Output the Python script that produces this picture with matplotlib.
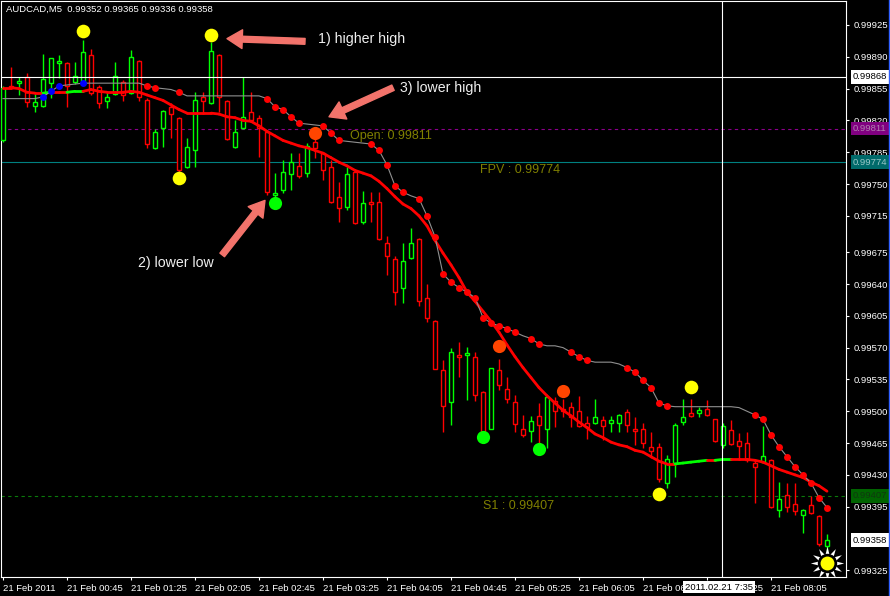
import matplotlib
matplotlib.use("Agg")
import matplotlib.pyplot as plt
import matplotlib.transforms as mtransforms
from matplotlib.collections import LineCollection
from matplotlib.patches import Rectangle
from matplotlib.lines import Line2D

plt.rcParams['font.family'] = ['Liberation Sans', 'DejaVu Sans']

# ---------------- data ----------------
title_text = "AUDCAD,M5  0.99352 0.99365 0.99336 0.99358"

opens = [0.99798, 0.99858, 0.99861, 0.99868, 0.99836, 0.99836, 0.99861, 0.99883, 0.99883, 0.99862,
         0.99862, 0.99892, 0.99857, 0.99841, 0.99849, 0.99862, 0.99850, 0.99885, 0.99842, 0.99790,
         0.99812, 0.99835, 0.99823, 0.99769, 0.99787, 0.99846, 0.99839, 0.99892, 0.99841, 0.99791,
         0.99812, 0.99829, 0.99823, 0.99807, 0.99738, 0.99743, 0.99761, 0.99770, 0.99762, 0.99796,
         0.99784, 0.99769, 0.99736, 0.99725, 0.99763, 0.99708, 0.99730, 0.99730, 0.99685, 0.99667,
         0.99636, 0.99669, 0.99690, 0.99625, 0.99599, 0.99545, 0.99510, 0.99562, 0.99562, 0.99560,
         0.99521, 0.99481, 0.99545, 0.99524, 0.99510, 0.99481, 0.99478, 0.99495, 0.99481, 0.99511,
         0.99503, 0.99505, 0.99500, 0.99487, 0.99487, 0.99490, 0.99487, 0.99487, 0.99499, 0.99481,
         0.99481, 0.99461, 0.99461, 0.99421, 0.99443, 0.99488, 0.99498, 0.99498, 0.99503, 0.99491,
         0.99463, 0.99479, 0.99467, 0.99465, 0.99443, 0.99444, 0.99446, 0.99391, 0.99408, 0.99398,
         0.99386, 0.99397, 0.99385, 0.99352]

highs = [0.99858, 0.99879, 0.99868, 0.99872, 0.99849, 0.99893, 0.99889, 0.99892, 0.99884, 0.99884,
         0.99908, 0.99899, 0.99859, 0.99850, 0.99884, 0.99865, 0.99897, 0.99886, 0.99845, 0.99811,
         0.99831, 0.99839, 0.99824, 0.99801, 0.99851, 0.99851, 0.99906, 0.99893, 0.99842, 0.99820,
         0.99868, 0.99851, 0.99826, 0.99809, 0.99762, 0.99776, 0.99784, 0.99784, 0.99795, 0.99802,
         0.99785, 0.99776, 0.99752, 0.99769, 0.99765, 0.99742, 0.99741, 0.99741, 0.99693, 0.99671,
         0.99685, 0.99702, 0.99691, 0.99640, 0.99600, 0.99556, 0.99570, 0.99576, 0.99571, 0.99565,
         0.99522, 0.99548, 0.99557, 0.99538, 0.99518, 0.99496, 0.99495, 0.99509, 0.99517, 0.99516,
         0.99514, 0.99510, 0.99517, 0.99495, 0.99514, 0.99495, 0.99495, 0.99497, 0.99503, 0.99494,
         0.99487, 0.99477, 0.99465, 0.99452, 0.99487, 0.99513, 0.99514, 0.99505, 0.99512, 0.99492,
         0.99487, 0.99490, 0.99476, 0.99477, 0.99446, 0.99484, 0.99447, 0.99422, 0.99421, 0.99421,
         0.99392, 0.99407, 0.99386, 0.99365]

lows = [0.99796, 0.99855, 0.99848, 0.99835, 0.99829, 0.99835, 0.99845, 0.99867, 0.99835, 0.99860,
        0.99860, 0.99848, 0.99834, 0.99834, 0.99848, 0.99841, 0.99849, 0.99841, 0.99790, 0.99789,
        0.99791, 0.99801, 0.99763, 0.99768, 0.99769, 0.99829, 0.99838, 0.99829, 0.99799, 0.99790,
        0.99811, 0.99818, 0.99780, 0.99738, 0.99736, 0.99740, 0.99743, 0.99757, 0.99758, 0.99779,
        0.99754, 0.99729, 0.99708, 0.99721, 0.99706, 0.99706, 0.99708, 0.99688, 0.99650, 0.99617,
        0.99619, 0.99668, 0.99616, 0.99598, 0.99546, 0.99477, 0.99485, 0.99538, 0.99512, 0.99511,
        0.99476, 0.99480, 0.99523, 0.99509, 0.99477, 0.99472, 0.99466, 0.99463, 0.99459, 0.99483,
        0.99494, 0.99483, 0.99483, 0.99469, 0.99486, 0.99468, 0.99477, 0.99477, 0.99477, 0.99463,
        0.99459, 0.99448, 0.99422, 0.99415, 0.99428, 0.99485, 0.99494, 0.99494, 0.99495, 0.99466,
        0.99459, 0.99463, 0.99446, 0.99444, 0.99399, 0.99443, 0.99394, 0.99384, 0.99389, 0.99386,
        0.99366, 0.99387, 0.99352, 0.99336]

closes = [0.99856, 0.99856, 0.99863, 0.99840, 0.99840, 0.99866, 0.99889, 0.99885, 0.99858, 0.99869,
          0.99895, 0.99850, 0.99839, 0.99846, 0.99869, 0.99848, 0.99890, 0.99846, 0.99794, 0.99807,
          0.99830, 0.99827, 0.99765, 0.99791, 0.99842, 0.99841, 0.99896, 0.99846, 0.99800, 0.99807,
          0.99824, 0.99820, 0.99812, 0.99741, 0.99740, 0.99763, 0.99774, 0.99759, 0.99792, 0.99790,
          0.99765, 0.99730, 0.99724, 0.99761, 0.99707, 0.99729, 0.99728, 0.99690, 0.99671, 0.99631,
          0.99665, 0.99685, 0.99621, 0.99603, 0.99547, 0.99506, 0.99565, 0.99560, 0.99564, 0.99518,
          0.99477, 0.99548, 0.99529, 0.99513, 0.99486, 0.99474, 0.99489, 0.99485, 0.99516, 0.99500,
          0.99500, 0.99494, 0.99484, 0.99483, 0.99494, 0.99484, 0.99490, 0.99496, 0.99485, 0.99478,
          0.99465, 0.99456, 0.99425, 0.99447, 0.99485, 0.99494, 0.99495, 0.99501, 0.99496, 0.99467,
          0.99484, 0.99464, 0.99462, 0.99446, 0.99439, 0.99451, 0.99395, 0.99403, 0.99395, 0.99390,
          0.99391, 0.99388, 0.99354, 0.99358]

ma_values = [0.99856, 0.99856, 0.99855, 0.99851, 0.99850, 0.99850, 0.99851, 0.99851, 0.99851, 0.99852,
             0.99852, 0.99854, 0.99852, 0.99851, 0.99851, 0.99851, 0.99852, 0.99851, 0.99848, 0.99845,
             0.99842, 0.99837, 0.99832, 0.99828, 0.99828, 0.99828, 0.99828, 0.99827, 0.99824, 0.99823,
             0.99820, 0.99819, 0.99814, 0.99808, 0.99803, 0.99798, 0.99795, 0.99792, 0.99790, 0.99787,
             0.99784, 0.99779, 0.99774, 0.99770, 0.99765, 0.99762, 0.99759, 0.99753, 0.99745, 0.99736,
             0.99728, 0.99723, 0.99715, 0.99704, 0.99688, 0.99674, 0.99661, 0.99647, 0.99631, 0.99621,
             0.99610, 0.99599, 0.99587, 0.99573, 0.99560, 0.99548, 0.99537, 0.99526, 0.99517, 0.99509,
             0.99501, 0.99495, 0.99488, 0.99482, 0.99475, 0.99471, 0.99466, 0.99463, 0.99461, 0.99457,
             0.99455, 0.99450, 0.99445, 0.99442, 0.99442, 0.99443, 0.99444, 0.99445, 0.99446, 0.99446,
             0.99447, 0.99447, 0.99447, 0.99447, 0.99446, 0.99444, 0.99440, 0.99436, 0.99433, 0.99430,
             0.99427, 0.99422, 0.99418, 0.99412]
ma_green_segments = [5, 8, 9, 84, 85, 86, 87, 89, 90]

trail_values = [0.99844, 0.99844, 0.99844, 0.99844, 0.99844, 0.99846, 0.99852, 0.99858, 0.99859, 0.99860,
                0.99861, 0.99861, 0.99861, 0.99861, 0.99861, 0.99861, 0.99861, 0.99861, 0.99858, 0.99856,
                0.99855, 0.99854, 0.99851, 0.99847, 0.99847, 0.99847, 0.99847, 0.99847, 0.99847, 0.99847,
                0.99847, 0.99847, 0.99847, 0.99844, 0.99835, 0.99832, 0.99824, 0.99817, 0.99816, 0.99815,
                0.99814, 0.99806, 0.99798, 0.99797, 0.99796, 0.99795, 0.99794, 0.99787, 0.99771, 0.99748,
                0.99741, 0.99737, 0.99734, 0.99715, 0.99692, 0.99651, 0.99642, 0.99636, 0.99631, 0.99625,
                0.99603, 0.99597, 0.99594, 0.99591, 0.99587, 0.99583, 0.99580, 0.99574, 0.99572, 0.99572,
                0.99570, 0.99565, 0.99560, 0.99556, 0.99554, 0.99554, 0.99554, 0.99552, 0.99548, 0.99543,
                0.99534, 0.99526, 0.99509, 0.99506, 0.99505, 0.99505, 0.99505, 0.99505, 0.99505, 0.99505,
                0.99505, 0.99505, 0.99504, 0.99500, 0.99496, 0.99491, 0.99474, 0.99461, 0.99450, 0.99439,
                0.99430, 0.99421, 0.99405, 0.99394]
trail_red_dot_bars = [18, 19, 22, 33, 34, 35, 36, 37, 40, 41, 42, 46, 47, 48, 49, 50, 52, 53, 54, 55,
                      56, 57, 58, 59, 60, 61, 62, 63, 64, 66, 67, 71, 72, 73, 78, 79, 80, 81, 82, 83,
                      94, 95, 96, 97, 98, 99, 100, 101, 102, 103]
trail_blue_dot_bars = [5, 6, 7, 10]

yellow_bars = [10, 26, 22, 82, 86]
yellow_prices = [0.99918, 0.99914, 0.99757, 0.99409, 0.99527]
orange_bars = [39, 62, 70]
orange_prices = [0.99806, 0.99572, 0.99522]
green_bars = [34, 60, 67]
green_prices = [0.99729, 0.99472, 0.99458]
sun_bar = 103
sun_price = 0.99333

level_open = 0.99811
level_fpv = 0.99774
level_s1 = 0.99407
current_price = 0.99358
cross_price = 0.99868
cross_bar = 90
cross_time = "2011.02.21 7:35"

price_ticks = [0.99925, 0.99890, 0.99855, 0.99820, 0.99785, 0.99750, 0.99715, 0.99675, 0.99640,
               0.99605, 0.99570, 0.99535, 0.99500, 0.99465, 0.99430, 0.99395, 0.99325]
time_tick_bars = [0, 8, 16, 24, 32, 40, 48, 56, 64, 72, 80, 88, 96]
time_tick_labels = ["21 Feb 2011", "21 Feb 00:45", "21 Feb 01:25", "21 Feb 02:05", "21 Feb 02:45",
                    "21 Feb 03:25", "21 Feb 04:05", "21 Feb 04:45", "21 Feb 05:25", "21 Feb 06:05",
                    "21 Feb 06:45", "21 Feb 07:25", "21 Feb 08:05"]

# ---------------- figure ----------------
W, H = 890, 596
PX = 0.72  # one pixel in points at 100 dpi
fig = plt.figure(figsize=(W / 100, H / 100), dpi=100)
fig.patch.set_facecolor('black')
ax = fig.add_axes([1 / W, 19 / H, 845 / W, 576 / H])
ax.set_facecolor('black')
ax.set_xlim(-0.25, 105.375)
ax.set_ylim(0.993176, 0.999514)

BULL = '#00FF00'
BEAR = '#FF0000'
n = len(opens)

# level lines
ax.axhline(level_open, color='#8B008B', lw=0.8, ls=(0, (3, 3)), zorder=1)
ax.axhline(level_fpv, color='#008080', lw=0.8, zorder=1)
ax.axhline(level_s1, color='#0B7A0B', lw=0.8, ls=(0, (3, 3)), zorder=1)
ax.text(43.4, 0.99803, "Open: 0.99811", color='#808000', fontsize=9, va='center', ha='left', zorder=1)
ax.text(59.6, 0.99765, "FPV : 0.99774", color='#808000', fontsize=9, va='center', ha='left', zorder=1)
ax.text(60.0, 0.99396, "S1 : 0.99407", color='#808000', fontsize=9, va='center', ha='left', zorder=1)

# candles (hollow bodies)
CLW = 1.0
for i in range(n):
    o, h, l, c = opens[i], highs[i], lows[i], closes[i]
    col = BULL if c > o else BEAR
    ax.plot([i, i], [l, h], color=col, lw=CLW, zorder=2, solid_capstyle='butt')
    lo_b, hi_b = min(o, c), max(o, c)
    if hi_b - lo_b < 0.000012:
        ax.plot([i - 0.27, i + 0.27], [o, o], color=col, lw=CLW, zorder=3)
    else:
        ax.add_patch(Rectangle((i - 0.27, lo_b), 0.54, hi_b - lo_b, facecolor='black',
                               edgecolor=col, lw=CLW, zorder=3))

# moving average line with colored segments
segs, cols = [], []
for i in range(n - 1):
    segs.append([(i, ma_values[i]), (i + 1, ma_values[i + 1])])
    cols.append(BULL if i in ma_green_segments else BEAR)
lc = LineCollection(segs, colors=cols, linewidths=2.0, zorder=4)
lc.set_capstyle('round')
ax.add_collection(lc)

# trailing line with dots
ax.plot(range(n), trail_values, color='#909090', lw=0.8, zorder=4)
ax.plot(trail_red_dot_bars, [trail_values[i] for i in trail_red_dot_bars], 'o', color='#FF0000',
        ms=5, mec='none', zorder=5)
ax.plot(trail_blue_dot_bars, [trail_values[i] for i in trail_blue_dot_bars], 'o', color='#0000FF',
        ms=5, mec='none', zorder=5)

# fractal circles
ax.plot(yellow_bars, yellow_prices, 'o', color='#FFFF00', ms=9.8, mec='none', zorder=6)
ax.plot(orange_bars, orange_prices, 'o', color='#FF4500', ms=9.5, mec='none', zorder=6)
ax.plot(green_bars, green_prices, 'o', color='#00FF00', ms=9.5, mec='none', zorder=6)
ax.plot([sun_bar], [sun_price], marker=(12, 1, 0), color='white', ms=24, mec='none', zorder=6)
ax.plot([sun_bar], [sun_price], 'o', color='black', ms=14, mec='none', zorder=6)
ax.plot([sun_bar], [sun_price], 'o', color='#FFFF00', ms=10, mec='none', zorder=6)

# crosshair
ax.axhline(cross_price, color='white', lw=0.8, zorder=7)
ax.axvline(cross_bar - 0.1, color='white', lw=0.8, zorder=7)

# annotations
arrow_col = '#F2736B'
aprops = dict(arrowstyle='simple,head_length=1.1,head_width=1.35,tail_width=0.42',
              color=arrow_col, shrinkA=0, shrinkB=0, mutation_scale=10)
ax.annotate('', xy=(28.0, 0.99910), xytext=(37.75, 0.99907), arrowprops=aprops, zorder=8)
ax.annotate('', xy=(40.75, 0.99824), xytext=(48.75, 0.99856), arrowprops=aprops, zorder=8)
ax.annotate('', xy=(32.75, 0.99732), xytext=(27.4, 0.99672), arrowprops=aprops, zorder=8)
ax.text(39.4, 0.99910, "1) higher high", color='#F0F0F0', fontsize=10.2, va='center', ha='left', zorder=8)
ax.text(49.6, 0.99856, "3) lower high", color='#F0F0F0', fontsize=10.2, va='center', ha='left', zorder=8)
ax.text(16.9, 0.99663, "2) lower low", color='#F0F0F0', fontsize=10.2, va='center', ha='left', zorder=8)

# axes styling
for s in ax.spines.values():
    s.set_color('white')
    s.set_linewidth(0.8)
ax.yaxis.tick_right()
ax.set_yticks(price_ticks)
ax.set_yticklabels([f"{p:.5f}" for p in price_ticks])
ax.set_xticks(time_tick_bars)
ax.set_xticklabels(time_tick_labels)
for lbl in ax.get_xticklabels():
    lbl.set_horizontalalignment('left')
ax.tick_params(axis='y', colors='white', length=2.2, width=0.8, pad=3, labelsize=6.8, direction='out')
ax.tick_params(axis='x', colors='white', length=2.2, width=0.8, pad=2.5, labelsize=6.8, direction='out')

# price boxes on the right axis
blend = mtransforms.blended_transform_factory(ax.transAxes, ax.transData)
def price_box(price, fc, tc):
    ax.annotate(f"{price:.5f}", xy=(1.0, price), xycoords=blend, xytext=(5.0, 0),
                textcoords='offset points', va='center', ha='left', fontsize=6.8, color=tc,
                bbox=dict(boxstyle='square,pad=0.25', fc=fc, ec='none'), annotation_clip=False, zorder=9)

price_box(cross_price, 'white', 'black')
price_box(level_open, '#800080', '#B080B0')
price_box(level_fpv, '#006A6A', '#9CC8C8')
price_box(level_s1, '#006400', '#103810')
price_box(current_price, 'white', 'black')

# title and crosshair time box
fig.text(6 / W, 1 - 9 / H, title_text, color='white', fontsize=6.8, va='center', ha='left')
fig.text(719 / W, 1 - 587 / H, cross_time, color='black', fontsize=6.8, va='center', ha='center',
         bbox=dict(boxstyle='square,pad=0.2', fc='white', ec='none'), zorder=10)
fig.add_artist(Line2D([888.5 / W, 888.5 / W], [0, 1], color='#3060FF', lw=1.0))

fig.savefig('out.png', dpi=100, facecolor='black')
